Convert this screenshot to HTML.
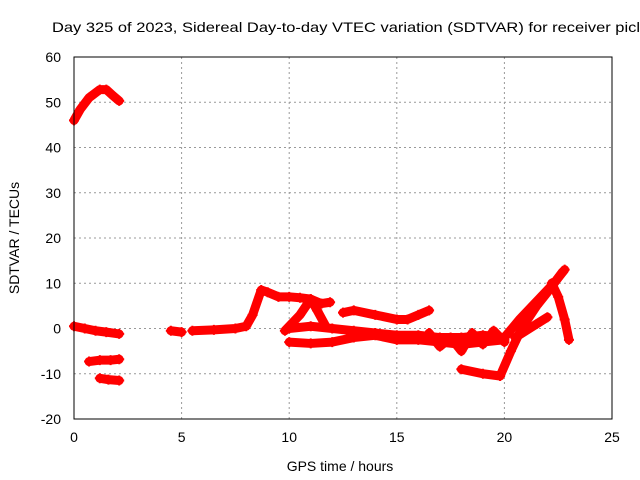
<!DOCTYPE html>
<html><head><meta charset="utf-8"><style>
body{margin:0;background:#fff;}
svg{display:block;font-family:"Liberation Sans",sans-serif;font-size:14px;}
</style></head><body>
<svg id="chart" width="640" height="480">
<rect width="640" height="480" fill="#fff"/>
<text x="52" y="32" textLength="588" lengthAdjust="spacingAndGlyphs">Day 325 of 2023, Sidereal Day-to-day VTEC variation (SDTVAR) for receiver picl</text>
<g id="grid"></g>
<g id="series"></g>
<rect x="74" y="57" width="538" height="362" fill="none" stroke="#000"/>
<g id="ticks"></g>
<text x="340" y="471" text-anchor="middle">GPS time / hours</text>
<text transform="translate(19,238) rotate(-90)" text-anchor="middle">SDTVAR / TECUs</text>
</svg>
<script>
const xTicks=[0,5,10,15,20,25];
const yTicks=[-20,-10,0,10,20,30,40,50,60];
const trackArc=[[0,46],[0.3,48.5],[0.7,51],[1.2,52.8],[1.5,52.8],[1.8,51.5],[2.1,50.3]];
const trackZero=[[0,0.5],[0.5,0],[1,-0.5],[1.5,-0.8],[2.1,-1.2]];
const trackMinus7=[[0.7,-7.3],[1.2,-7],[1.7,-7],[2.1,-6.8]];
const trackMinus11=[[1.2,-11],[1.6,-11.3],[2.1,-11.5]];
const trackShort=[[4.5,-0.5],[5,-0.8]];
const trackPeak=[[5.5,-0.5],[6.5,-0.3],[7.5,0],[8,0.5],[8.3,3],[8.7,8.5],[9,8],[9.5,7],[10,7],[10.5,6.8],[11,6.5],[11.5,5.5],[11.9,5.8]];
const trackRise=[[9.8,-0.5],[10.5,3],[11,6.5],[11.3,4],[11.7,0.5]];
const trackMid=[[10,0],[11,0.5],[12,0],[13,-0.5],[14,-1],[15,-1.5],[16,-1.5],[17,-2],[18,-2],[19,-1.5],[20,-2]];
const trackLow=[[10,-3],[11,-3.3],[12,-3],[13,-2],[14,-1.5],[15,-2.5],[16,-2.5],[17,-3],[18,-3.5],[19,-3],[20,-2.5]];
const trackUpper=[[12.5,3.5],[13,4],[14,3],[15,2],[15.5,2],[16,3],[16.5,4]];
const trackNoise=[[16.5,-1],[17,-4],[17.5,-2],[18,-5],[18.5,-1],[19,-3.5],[19.5,-0.5],[20,-3]];
const trackDip=[[18,-9],[19,-10],[19.8,-10.5],[20.3,-5],[20.8,0],[21.5,5],[22,8],[22.7,12.5]];
const trackClimb=[[20,-2],[20.7,2],[21.5,6],[22.3,10],[22.8,13]];
const trackThin=[[20.5,-2],[21.5,1],[22,2.5]];
const trackDrop=[[22.2,10],[22.5,7],[22.8,2],[23,-2.5]];
const tracks=[trackArc,trackZero,trackMinus7,trackMinus11,trackShort,trackPeak,trackRise,trackMid,trackLow,trackUpper,trackNoise,trackDip,trackClimb,trackThin,trackDrop];
const NS="http://www.w3.org/2000/svg";
const px=x=>74+x*538/25;
const py=v=>419-(v+20)*362/80;
const grid=document.getElementById('grid'),ticks=document.getElementById('ticks'),ser=document.getElementById('series');
function mk(tag,attrs,parent){const e=document.createElementNS(NS,tag);for(const k in attrs)e.setAttribute(k,attrs[k]);parent.appendChild(e);return e;}
xTicks.forEach(t=>{
 if(t>0&&t<25){const g=mk('line',{x1:px(t),x2:px(t),y1:57,y2:419,stroke:'#999','stroke-dasharray':'2,3'},grid);
 
 }
 const l=mk('text',{x:px(t),y:442,'text-anchor':'middle'},ticks);l.textContent=t;
 
 
});
yTicks.forEach(t=>{
 if(t>-20&&t<60){const g=mk('line',{x1:74,x2:612,y1:py(t),y2:py(t),stroke:'#999','stroke-dasharray':'2,3'},grid);
 
 }
 const l=mk('text',{x:61,y:py(t)+5,'text-anchor':'end'},ticks);l.textContent=t;
 
 
});
tracks.forEach(tr=>{
 const p=mk('polyline',{points:tr.map(d=>px(d[0])+','+py(d[1])).join(' '),fill:'none',stroke:'#f00','stroke-width':9,'stroke-linejoin':'round','stroke-linecap':'round'},ser);
 
 
 tr.forEach(d=>{const x=px(d[0]),y=py(d[1]);
  const m=mk('path',{d:`M${x-5},${y}H${x+5}M${x},${y-5}V${y+5}`,stroke:'#f00','stroke-width':2},ser);
  
  });
});
</script>
</body></html>
